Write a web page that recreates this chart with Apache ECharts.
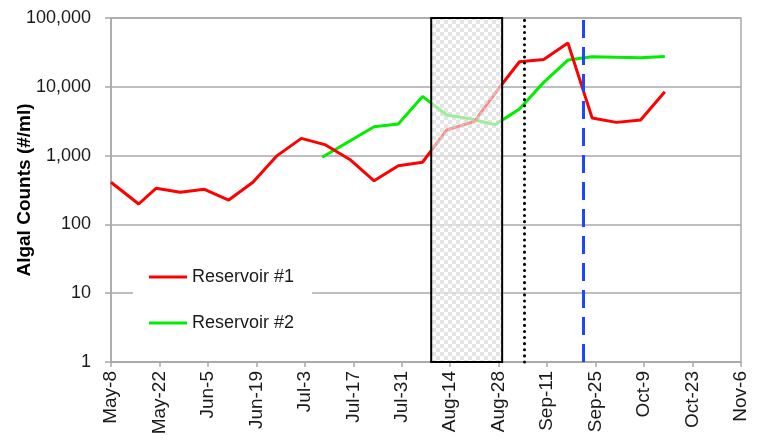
<!DOCTYPE html>
<html>
<head>
<meta charset="utf-8">
<title>Algal Counts</title>
<script src="https://cdn.jsdelivr.net/npm/echarts@6/dist/echarts.min.js"></script>
<style>
    html, body { margin: 0; padding: 0; background: #fff; }
    #main { width: 782px; height: 445px; }
</style>
</head>
<body>
<div id="main"></div>
<script>
// x轴刻度 (每两周)
var tickLabels = ['May-8', 'May-22', 'Jun-5', 'Jun-19', 'Jul-3', 'Jul-17', 'Jul-31',
    'Aug-14', 'Aug-28', 'Sep-11', 'Sep-25', 'Oct-9', 'Oct-23', 'Nov-6'];

// Reservoir #1 采样日期和数值
var res1Dates = ['05-08', '05-16', '05-21', '05-28', '06-04', '06-11', '06-18', '06-25',
    '07-02', '07-09', '07-16', '07-23', '07-30', '08-06', '08-13', '08-21', '08-29',
    '09-03', '09-10', '09-17', '09-24', '10-01', '10-08', '10-15'];
var res1Values = [410, 198, 335, 293, 324, 226, 410, 1000,
    1780, 1430, 880, 430, 710, 800, 2360, 3150, 11000,
    23100, 25000, 43200, 3530, 3040, 3300, 8490];

// Reservoir #2
var res2Dates = ['07-08', '07-23', '07-30', '08-06', '08-13', '08-20', '08-27',
    '09-03', '09-10', '09-17', '09-24', '10-01', '10-08', '10-15'];
var res2Values = [945, 2630, 2890, 7250, 3890, 3400, 2820,
    4760, 11600, 24500, 27300, 26800, 26500, 27600];

// 阴影区间和两条竖线 (竖线在当天中午)
var shadeRange = ['08-08', '08-29'];
var dottedDate = '09-04';
var dashedDate = '09-21';

var startDate = '05-08';
var dayStep = 14;

function toDay(md) {
    var p = md.split('-');
    var t = Date.UTC(2009, +p[0] - 1, +p[1]);
    var s = startDate.split('-');
    var t0 = Date.UTC(2009, +s[0] - 1, +s[1]);
    return Math.round((t - t0) / 86400000);
}

function pairs(dates, values) {
    var out = [];
    for (var i = 0; i < dates.length; i++) {
        out.push([toDay(dates[i]), values[i]]);
    }
    return out;
}

// 灰色棋盘格填充 (半透明, 下面的线会变淡)
var pat = document.createElement('canvas');
pat.width = 8;
pat.height = 8;
var pctx = pat.getContext('2d');
pctx.fillStyle = 'rgba(255,255,255,0.55)';
pctx.fillRect(0, 0, 8, 8);
pctx.fillStyle = 'rgba(205,205,205,0.55)';
pctx.fillRect(0, 0, 4, 4);
pctx.fillRect(4, 4, 4, 4);

var myChart = echarts.init(document.getElementById('main'));

var gridColor = '#a9a9a9';
var txtColor = '#1a1a1a';
var font = 'Liberation Sans, Arial, sans-serif';

myChart.setOption({
    animation: false,
    grid: {
        left: 111,
        right: 41,
        top: 18,
        bottom: 83,
        show: true,
        borderColor: gridColor,
        borderWidth: 1.5,
        containLabel: false,
        outerBoundsMode: 'none'
    },
    legend: {
        orient: 'vertical',
        left: 133,
        top: 262,
        backgroundColor: '#fff',
        padding: [6, 18, 10, 16],
        icon: 'rect',
        itemWidth: 38,
        itemHeight: 3,
        itemGap: 28,
        textStyle: { fontFamily: font, fontSize: 18, color: txtColor },
        data: ['Reservoir #1', 'Reservoir #2']
    },
    xAxis: {
        type: 'value',
        min: 0,
        max: (tickLabels.length - 1) * dayStep,
        interval: dayStep,
        axisLine: { lineStyle: { color: gridColor, width: 1.5 } },
        axisTick: { show: true, length: 5, lineStyle: { color: gridColor, width: 1.5 } },
        splitLine: { show: false },
        axisLabel: {
            rotate: 90,
            margin: 9,
            fontFamily: font,
            fontSize: 19,
            color: txtColor,
            formatter: function (v) {
                return tickLabels[Math.round(v / dayStep)] || '';
            }
        }
    },
    yAxis: {
        type: 'log',
        logBase: 10,
        min: 1,
        max: 100000,
        name: 'Algal Counts (#/ml)',
        nameLocation: 'middle',
        nameGap: 77,
        nameMoveOverlap: false,
        nameTextStyle: { fontFamily: font, fontSize: 19, fontWeight: 'bold', color: '#000' },
        axisLine: { show: true, lineStyle: { color: gridColor, width: 1.5 } },
        axisTick: { show: true, length: 6, lineStyle: { color: gridColor, width: 1.5 } },
        splitLine: { show: true, lineStyle: { color: gridColor, width: 1.5 } },
        minorTick: { show: false },
        axisLabel: {
            margin: 20,
            fontFamily: font,
            fontSize: 18,
            color: txtColor,
            formatter: function (v) {
                return Math.round(v).toLocaleString('en-US');
            }
        }
    },
    series: [
        {
            name: 'Reservoir #1',
            type: 'line',
            symbol: 'none',
            z: 3,
            lineStyle: { color: '#ff0000', width: 3 },
            itemStyle: { color: '#ff0000' },
            data: pairs(res1Dates, res1Values)
        },
        {
            name: 'Reservoir #2',
            type: 'line',
            symbol: 'none',
            z: 2,
            lineStyle: { color: '#00ee00', width: 3 },
            itemStyle: { color: '#00ee00' },
            data: pairs(res2Dates, res2Values)
        },
        {
            // 阴影框和竖线放在最上层
            name: 'marks',
            type: 'line',
            z: 10,
            data: [],
            markArea: {
                silent: true,
                z: 10,
                itemStyle: {
                    color: { image: pat, repeat: 'repeat' },
                    borderColor: '#000',
                    borderWidth: 2
                },
                data: [[
                    { xAxis: toDay(shadeRange[0]) + 0.5, yAxis: 1 },
                    { xAxis: toDay(shadeRange[1]), yAxis: 100000 }
                ]]
            },
            markLine: {
                silent: true,
                z: 11,
                symbol: ['none', 'none'],
                label: { show: false },
                data: [
                    { xAxis: toDay(dottedDate) + 0.5, lineStyle: { color: '#000', width: 3, type: [0.1, 6], cap: 'round' } },
                    { xAxis: toDay(dashedDate) + 0.5, lineStyle: { color: '#1a47ff', width: 3, type: [18, 9] } }
                ]
            }
        }
    ]
});
</script>
</body>
</html>
